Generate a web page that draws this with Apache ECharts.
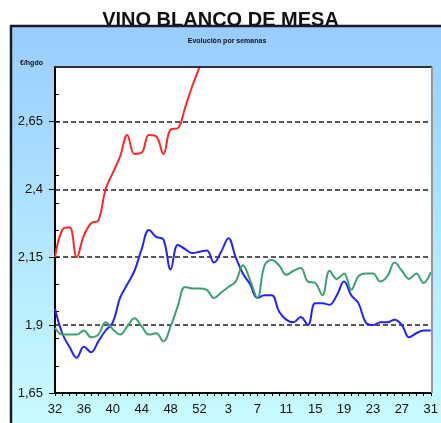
<!DOCTYPE html>
<html>
<head>
<meta charset="utf-8">
<script src="https://cdn.jsdelivr.net/npm/echarts@6/dist/echarts.min.js"></script>
<style>
html,body{margin:0;padding:0;background:#fff;}
#c{width:441px;height:423px;}
</style>
</head>
<body>
<div id="c"></div>
<script>
var titleText = 'VINO BLANCO DE MESA';
var subtitleText = 'Evolución por semanas';
var unitText = '€/hgdo';
var weeks = ['32','33','34','35','36','37','38','39','40','41','42','43','44','45','46','47','48','49','50','51','52','53',
             '1','2','3','4','5','6','7','8','9','10','11','12','13','14','15','16','17','18','19','20','21','22','23','24','25','26','27','28','29','30','31'];
var redValues = [2.15,2.25,2.26,2.15,2.23,2.275,2.285,2.40,2.46,2.52,2.60,2.53,2.535,2.60,2.595,2.53,2.62,2.625,2.70,2.78,2.85,2.93,
                 null,null,null,null,null,null,null,null,null,null,null,null,null,null,null,null,null,null,null,null,null,null,null,null,null,null,null,null,null,null,null];
var blueValues = [1.96,1.87,1.82,1.78,1.82,1.80,1.84,1.88,1.91,2.00,2.05,2.10,2.18,2.25,2.225,2.215,2.105,2.195,2.18,2.165,2.17,2.175,
                  2.13,2.17,2.22,2.15,2.09,2.05,2.00,2.01,2.01,1.95,1.92,1.91,1.93,1.90,1.98,1.98,1.975,2.01,2.06,2.01,1.98,1.91,1.90,1.91,1.91,1.92,1.90,1.855,1.87,1.88,1.88];
var greenValues = [1.89,1.865,1.865,1.865,1.88,1.855,1.865,1.91,1.885,1.865,1.895,1.925,1.895,1.865,1.87,1.84,1.895,1.97,2.04,2.035,2.035,2.03,
                   2.00,2.02,2.04,2.06,2.12,2.065,2.00,2.12,2.14,2.12,2.085,2.10,2.11,2.06,2.055,2.01,2.10,2.07,2.09,2.03,2.08,2.09,2.09,2.06,2.08,2.13,2.10,2.07,2.09,2.055,2.095];
var yMin = 1.65, yMax = 2.85, yMajor = 0.25, yMinor = 0.1;

var G = {left:55, top:67, right:9, bottom:30};
var W = 441, H = 423;
var gx0 = G.left, gx1 = W - G.right, gy0 = G.top, gy1 = H - G.bottom;

var chart = echarts.init(document.getElementById('c'), null, {renderer:'canvas'});
var fmt = function(v){ return (+(+v).toFixed(2)).toString().replace('.', ','); };
chart.setOption({
  animation:false,
  backgroundColor:'#ffffff',
  graphic:[
    {type:'text', z:-3, left:'center', top:10, style:{text:titleText, font:'bold 20px "Liberation Sans", Arial, sans-serif', fill:'#111'}},
    {type:'rect', z:-2, shape:{x:11, y:26, width:445, height:420},
     style:{stroke:'#1c1c1c', lineWidth:2.5,
       fill:new echarts.graphic.LinearGradient(0,0,0,1,[{offset:0,color:'#99CCFF'},{offset:1,color:'#CCFFFF'}])}},
    {type:'text', z:-1, x:227, y:41, style:{text:subtitleText, font:'bold 7px "Liberation Sans", Arial, sans-serif', fill:'#111', textAlign:'center', textVerticalAlign:'middle'}},
    {type:'text', z:-1, x:20, y:63, style:{text:unitText, font:'bold 7px "Liberation Sans", Arial, sans-serif', fill:'#111', textAlign:'left', textVerticalAlign:'middle'}},
    {type:'line', z:50, shape:{x1:gx0, y1:gy0, x2:gx1, y2:gy0}, style:{stroke:'#333', lineWidth:2}},
    {type:'line', z:50, shape:{x1:gx1, y1:gy0, x2:gx1, y2:gy1}, style:{stroke:'#999', lineWidth:2}}
  ],
  grid:{left:G.left, top:G.top, right:G.right, bottom:G.bottom, show:true, backgroundColor:'#ffffff', borderColor:'#999', borderWidth:0},
  xAxis:{
    type:'category', data:weeks, boundaryGap:false,
    axisLine:{lineStyle:{color:'#000', width:2}},
    axisTick:{show:true, interval:0, length:3, lineStyle:{color:'#000'}},
    axisLabel:{interval:3, color:'#111', fontSize:13, fontFamily:'"Liberation Sans", Arial, sans-serif', margin:10},
    splitLine:{show:false}
  },
  yAxis:[
    {type:'value', min:yMin, max:yMax, interval:yMajor, position:'left',
     axisLine:{show:true, lineStyle:{color:'#000', width:2}},
     axisTick:{show:true, length:6, lineStyle:{color:'#000'}},
     axisLabel:{showMaxLabel:false, formatter:fmt, color:'#111', fontSize:13, fontFamily:'"Liberation Sans", Arial, sans-serif', margin:12},
     splitLine:{show:true, lineStyle:{color:'#222', width:1.5, type:[5,3]}}
    },
    {type:'value', min:yMin, max:yMax, interval:yMinor, position:'left',
     axisLine:{show:false},
     axisTick:{show:true, inside:true, length:4, lineStyle:{color:'#000'}},
     axisLabel:{show:false},
     splitLine:{show:false}
    }
  ],
  series:[
    {type:'line', data:redValues, yAxisIndex:0, smooth:0.4, showSymbol:false, clip:true, connectNulls:false, lineStyle:{color:'#FF2626', width:2}, z:5},
    {type:'line', data:blueValues, yAxisIndex:0, smooth:0.4, showSymbol:false, lineStyle:{color:'#2222FF', width:2}, z:5},
    {type:'line', data:greenValues, yAxisIndex:0, smooth:0.4, showSymbol:false, lineStyle:{color:'#3CA070', width:2}, z:5}
  ]
});
</script>
</body>
</html>
